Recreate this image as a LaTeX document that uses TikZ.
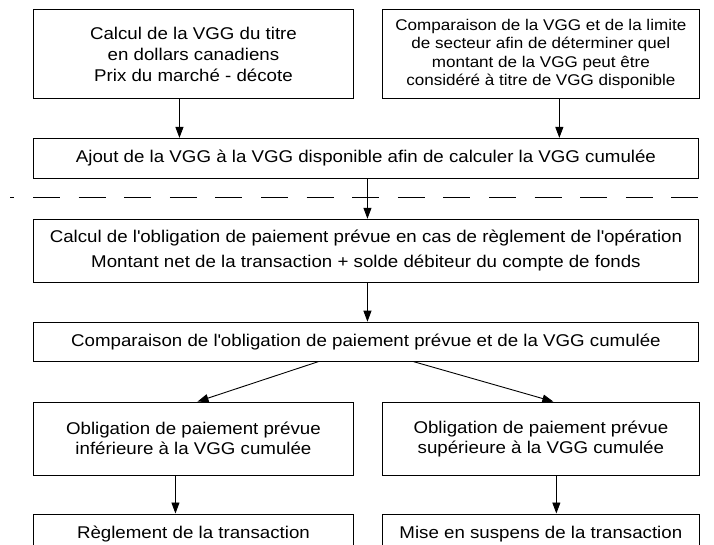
\documentclass[tikz,border=0pt]{standalone}
\usepackage{fontspec}
\setmainfont{Liberation Sans}[FakeStretch=1.1]
\usetikzlibrary{arrows.meta,positioning}

\begin{document}
\begin{tikzpicture}
[x=1pt, y=-1pt, line width=0.9pt, font=\fontsize{17}{20}\selectfont,
% STYLES
>={Triangle[width=8pt,length=11pt]},
stage/.style={rectangle, draw, inner sep=0pt, align=center, minimum height=40pt},
half/.style={stage, minimum width=320pt},
halfright/.style={stage, minimum width=317pt},
wide/.style={stage, minimum width=665pt},
separator/.style={dash pattern=on 27pt off 18.6pt, dash phase=22.6pt}]

\useasboundingbox (0,0) rectangle (714,545);

% valeur du titre
\node [half, minimum height=89pt, anchor=north west, font=\fontsize{17}{21}\selectfont] (titre) at (33,9) {Calcul de la VGG du titre\\en dollars canadiens\\Prix du marché - décote};
\node [halfright, minimum height=89pt, right=28pt of titre, font=\fontsize{15.5}{18.5}\selectfont] (secteur) {Comparaison de la VGG et de la limite\\de secteur afin de déterminer quel\\montant de la VGG peut être\\considéré à titre de VGG disponible};
\node [wide, below right=39pt and 0pt of titre.south west] (ajout) {Ajout de la VGG à la VGG disponible afin de calculer la VGG cumulée};

% obligation de paiement
\node [wide, minimum height=63pt, below=40pt of ajout, font=\fontsize{17}{25}\selectfont] (calcul) {Calcul de l\textquotesingle obligation de paiement prévue en cas de règlement de l\textquotesingle opération\\Montant net de la transaction + solde débiteur du compte de fonds};
\node [wide, minimum height=39pt, below=39pt of calcul] (comparaison) {Comparaison de l\textquotesingle obligation de paiement prévue et de la VGG cumulée};

\node [half, minimum height=73pt, below right=40pt and 0pt of comparaison.south west] (inferieure) {Obligation de paiement prévue\\inférieure à la VGG cumulée};
\node [halfright, minimum height=73pt, right=28pt of inferieure] (superieure) {Obligation de paiement prévue\\supérieure à la VGG cumulée};

\node [half, below=38pt of inferieure] (reglement) {Règlement de la transaction};
\node [halfright, below=38pt of superieure] (suspens) {Mise en suspens de la transaction};

%%%%%%%%%%%%%%%%

\coordinate (sep-west) at (10,197);
\coordinate (sep-east) at (698,197);
\draw[separator] (sep-west) -- (sep-east);

\draw[->] ([xshift=-14pt]titre.south) -- ([xshift=-14pt]titre.south |- ajout.north);
\draw[->] ([xshift=18.5pt]secteur.south) -- ([xshift=18.5pt]secteur.south |- ajout.north);
\draw[->] ([xshift=1.5pt]ajout.south) -- ([xshift=1.5pt]calcul.north);
\draw[->] ([xshift=1.5pt]calcul.south) -- ([xshift=1.5pt]comparaison.north);

\draw[->] ([xshift=-47.5pt]comparaison.south) -- ([xshift=4pt]inferieure.north);
\draw[->] ([xshift=47.5pt]comparaison.south) -- ([xshift=12.5pt]superieure.north);

\draw[->] ([xshift=-18pt]inferieure.south) -- ([xshift=-18pt]reglement.north);
\draw[->] ([xshift=15.5pt]superieure.south) -- ([xshift=15.5pt]suspens.north);

\end{tikzpicture}
\end{document}
